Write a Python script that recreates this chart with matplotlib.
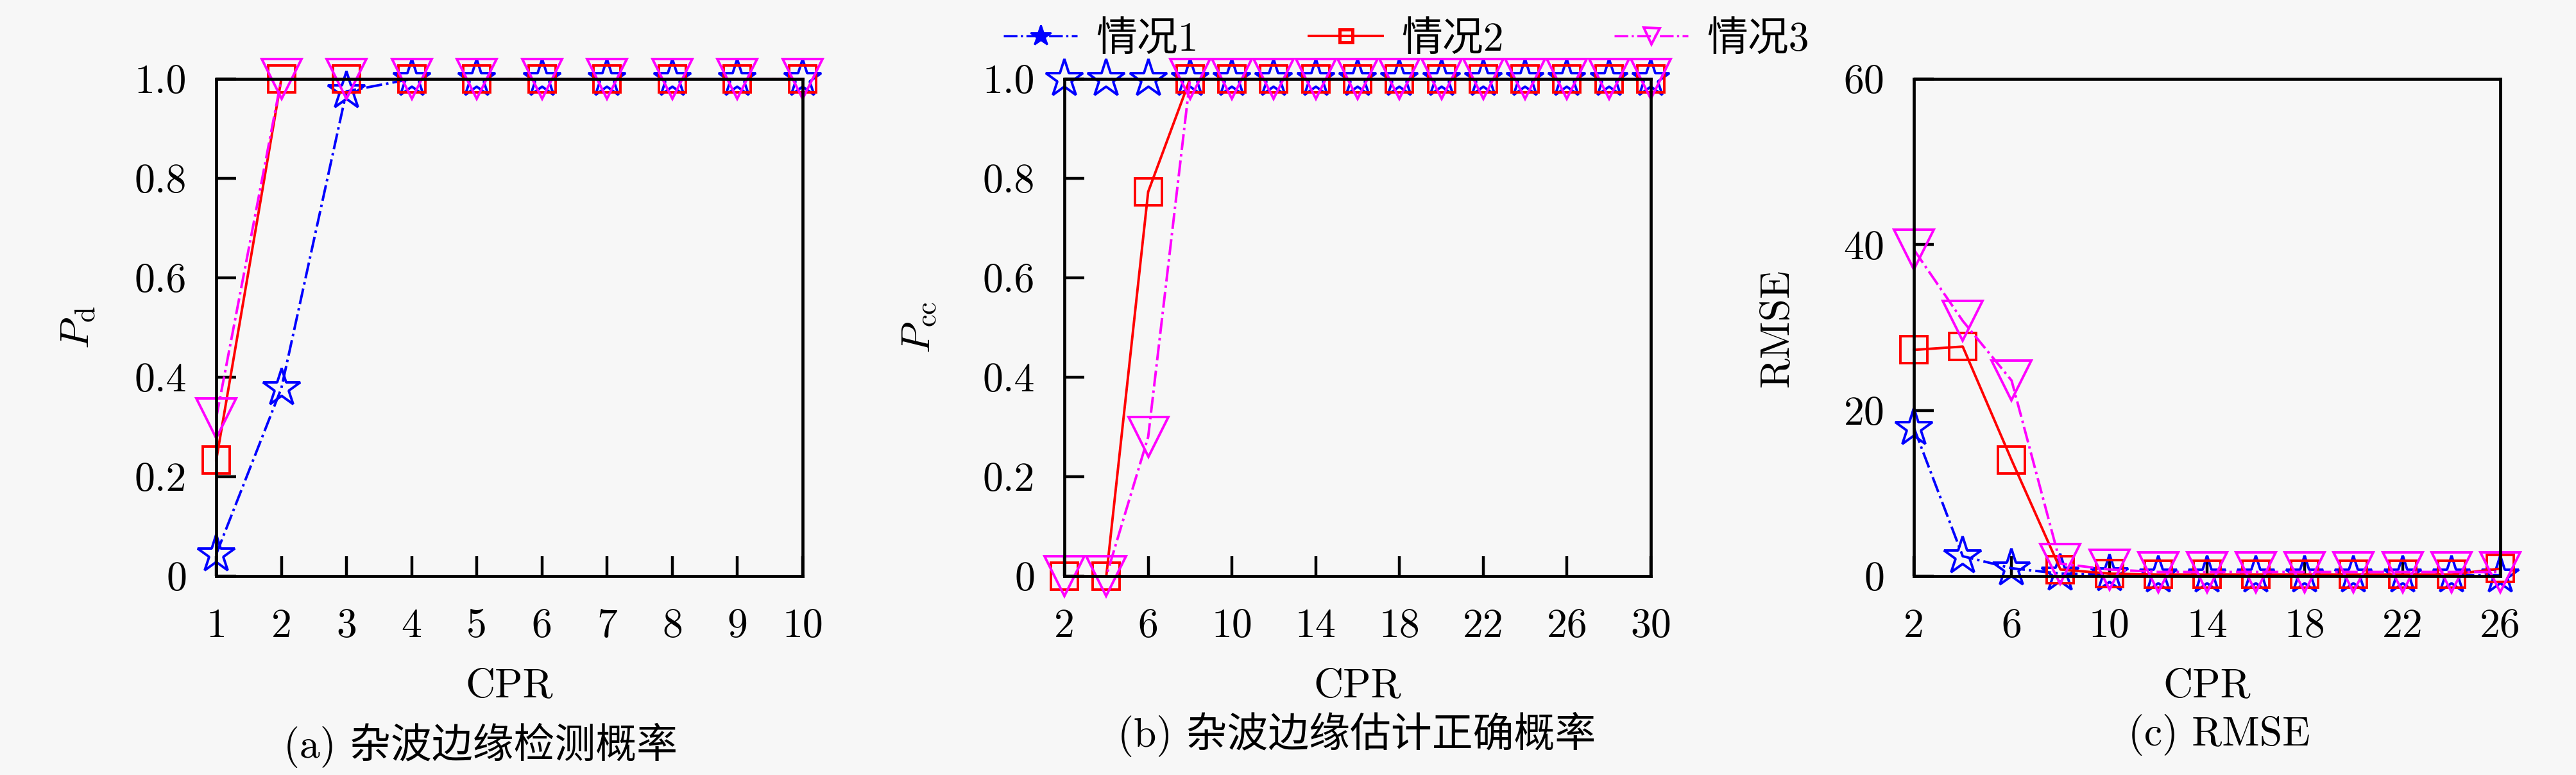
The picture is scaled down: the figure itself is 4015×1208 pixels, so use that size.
import matplotlib
matplotlib.use('Agg')
import matplotlib.pyplot as plt
from matplotlib.lines import Line2D

plt.rcParams['font.family'] = ['cmr10', 'Noto Sans CJK SC', 'DejaVu Sans']
plt.rcParams['mathtext.fontset'] = 'cm'
plt.rcParams['axes.unicode_minus'] = False
plt.rcParams['axes.formatter.use_mathtext'] = True

# ---------------- data ----------------
series_names = ['情况1', '情况2', '情况3']

cpr_a = [1, 2, 3, 4, 5, 6, 7, 8, 9, 10]
pd_case1 = [0.044, 0.378, 0.975, 1.0, 1.0, 1.0, 1.0, 1.0, 1.0, 1.0]
pd_case2 = [0.233, 1.0, 1.0, 1.0, 1.0, 1.0, 1.0, 1.0, 1.0, 1.0]
pd_case3 = [0.318, 1.0, 1.0, 1.0, 1.0, 1.0, 1.0, 1.0, 1.0, 1.0]
xticks_a = [1, 2, 3, 4, 5, 6, 7, 8, 9, 10]
yticks_a = [0, 0.2, 0.4, 0.6, 0.8, 1.0]
yticklabels_a = ['0', '0.2', '0.4', '0.6', '0.8', '1.0']

cpr_b = [2, 4, 6, 8, 10, 12, 14, 16, 18, 20, 22, 24, 26, 28, 30]
pcc_case1 = [1.0, 1.0, 1.0, 1.0, 1.0, 1.0, 1.0, 1.0, 1.0, 1.0, 1.0, 1.0, 1.0, 1.0, 1.0]
pcc_case2 = [0.0, 0.0, 0.773, 1.0, 1.0, 1.0, 1.0, 1.0, 1.0, 1.0, 1.0, 1.0, 1.0, 1.0, 1.0]
pcc_case3 = [0.0, 0.0, 0.28, 1.0, 1.0, 1.0, 1.0, 1.0, 1.0, 1.0, 1.0, 1.0, 1.0, 1.0, 1.0]
xticks_b = [2, 6, 10, 14, 18, 22, 26, 30]

cpr_c = [2, 4, 6, 8, 10, 12, 14, 16, 18, 20, 22, 24, 26]
rmse_case1 = [17.9, 2.4, 0.95, 0.3, 0.2, 0.1, 0.1, 0.1, 0.1, 0.1, 0.1, 0.1, 0.1]
rmse_case2 = [27.3, 27.7, 14.0, 0.8, 0.3, 0.2, 0.2, 0.2, 0.2, 0.2, 0.2, 0.2, 0.9]
rmse_case3 = [39.4, 30.8, 23.6, 1.5, 0.8, 0.5, 0.5, 0.5, 0.5, 0.5, 0.5, 0.5, 0.5]
xticks_c = [2, 6, 10, 14, 18, 22, 26]
yticks_c = [0, 20, 40, 60]

captions = ['(a) 杂波边缘检测概率', '(b) 杂波边缘估计正确概率', '(c) RMSE']

# ---------------- style ----------------
FS = 23
BG = '#f7f7f7'
styles = [
    dict(color='#0000ff', ls='-.', marker='*', ms=22),
    dict(color='#ff0000', ls='-', marker='s', ms=15),
    dict(color='#ff00ff', ls='-.', marker='v', ms=22),
]

fig = plt.figure(figsize=(20.08, 6.04), dpi=200, facecolor=BG)

W, H = 4016.0, 1208.0
ax_w = 914 / W
ax_h = 775 / H
ax_b = 1 - 898 / H
lefts = [337 / W, 1659 / W, 2983 / W]


def setup(ax, xlim, ylim, xticks, yticks, yticklabels, ylabel, ylab_x):
    ax.set_facecolor(BG)
    ax.set_xlim(*xlim)
    ax.set_ylim(*ylim)
    ax.set_xticks(xticks)
    ax.set_xticklabels([str(t) for t in xticks])
    ax.set_yticks(yticks)
    ax.set_yticklabels(yticklabels)
    ax.tick_params(axis='both', direction='in', length=11, width=1.6,
                   labelsize=FS, top=False, right=False)
    ax.tick_params(axis='x', pad=18)
    ax.tick_params(axis='y', pad=16.5)
    for sp in ax.spines.values():
        sp.set_linewidth(1.7)
        sp.set_color('black')
    ax.set_xlabel('CPR', fontsize=FS, va='center')
    ax.xaxis.set_label_coords(0.5, -0.222)
    ax.set_ylabel(ylabel, fontsize=FS, va='center', ha='center')
    ax.yaxis.set_label_coords(ylab_x, 0.5)


def draw(ax, x, ys):
    for y, st in zip(ys, styles):
        ax.plot(x, y, color=st['color'], ls=st['ls'], lw=1.4,
                marker=st['marker'], ms=st['ms'], mfc='none',
                mec=st['color'], mew=1.4, clip_on=False)


# (a)
ax1 = fig.add_axes([lefts[0], ax_b, ax_w, ax_h])
draw(ax1, cpr_a, [pd_case1, pd_case2, pd_case3])
setup(ax1, (1, 10), (0, 1), xticks_a, yticks_a, yticklabels_a,
      r'$P_{\rm d}$', -0.234)

# (b)
ax2 = fig.add_axes([lefts[1], ax_b, ax_w, ax_h])
draw(ax2, cpr_b, [pcc_case1, pcc_case2, pcc_case3])
setup(ax2, (2, 30), (0, 1), xticks_b, yticks_a, yticklabels_a,
      r'$P_{\rm cc}$', -0.246)

# (c)
ax3 = fig.add_axes([lefts[2], ax_b, ax_w, ax_h])
draw(ax3, cpr_c, [rmse_case1, rmse_case2, rmse_case3])
setup(ax3, (2, 26), (0, 60), xticks_c, yticks_c, [str(t) for t in yticks_c],
      'RMSE', -0.233)

# captions
fig.text(749 / W, 1 - 1162 / H, captions[0], fontsize=FS, ha='center', va='center')
fig.text(2115 / W, 1 - 1145 / H, captions[1], fontsize=FS, ha='center', va='center')
fig.text(3459 / W, 1 - 1145 / H, captions[2], fontsize=FS, ha='center', va='center')

# legend (small markers, as in the reference legend)
handles = [
    Line2D([], [], color=styles[0]['color'], ls='-.', lw=1.2, marker='*',
           ms=12, mfc=styles[0]['color'], mec=styles[0]['color']),
    Line2D([], [], color=styles[1]['color'], ls='-', lw=1.4, marker='s',
           ms=7, mfc='none', mec=styles[1]['color'], mew=1.8),
    Line2D([], [], color=styles[2]['color'], ls='-.', lw=1.2, marker='v',
           ms=9, mfc='none', mec=styles[2]['color'], mew=1.4),
]
fig.legend(handles, series_names, loc='center', bbox_to_anchor=(2192 / W, 1 - 62 / H),
           ncol=3, frameon=False, fontsize=FS, handlelength=1.8,
           handletextpad=0.45, columnspacing=2.7)

fig.savefig('out.png', dpi=200, facecolor=BG)
